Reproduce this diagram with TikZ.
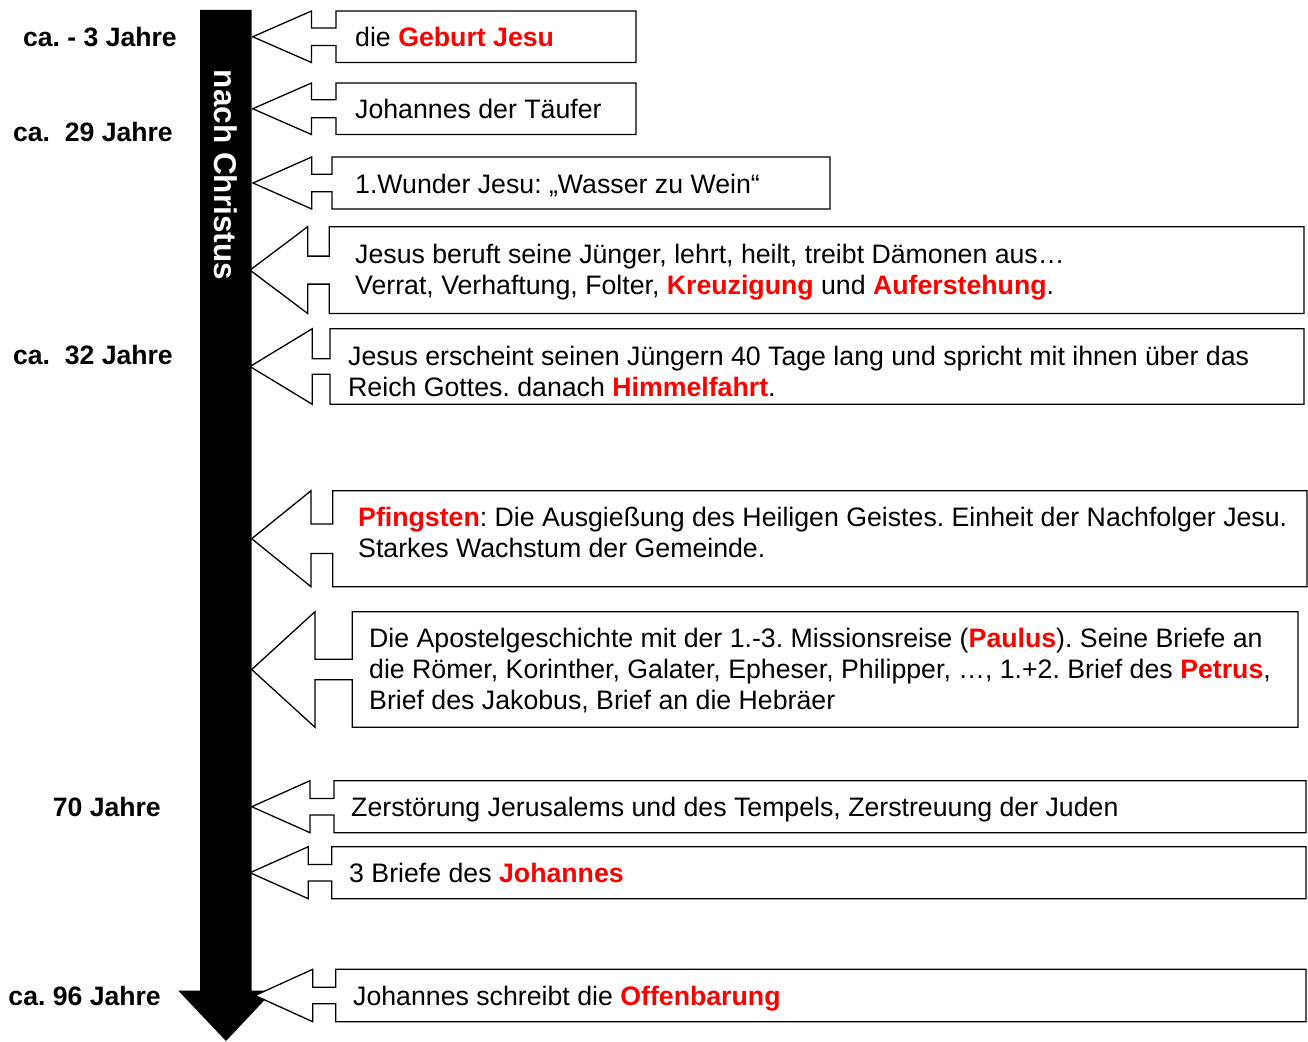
\documentclass[tikz,border=0pt]{standalone}
\usepackage{fontspec}
\setmainfont{Liberation Sans}
\usetikzlibrary{calc}
\definecolor{hl}{RGB}{255,0,0}
\newcommand\hi[1]{\textbf{\textcolor{hl}{#1}}}
% #1 tip x, #2 head back x, #3 box left, #4 box right, #5 top, #6 bottom, #7 shaft half width
\newcommand\callout[7]{%
  \draw[calloutshape] (#3,#5) -- (#4,#5) -- (#4,#6) -- (#3,#6)
    -- (#3,{(#5+#6)/2+#7}) -- (#2,{(#5+#6)/2+#7}) -- (#2,#6)
    -- (#1,{(#5+#6)/2}) -- (#2,#5) -- (#2,{(#5+#6)/2-#7})
    -- (#3,{(#5+#6)/2-#7}) -- cycle;}
\begin{document}
\frenchspacing
\begin{tikzpicture}[x=1pt,y=-1pt,
  calloutshape/.style={draw=black,fill=white,line width=1.3pt,line join=miter},
  evtext/.style={anchor=west,align=left,inner sep=0pt,font=\fontsize{26.7}{31}\selectfont},
  yearlabel/.style={anchor=east,inner sep=0pt,font=\fontsize{26.6}{31}\selectfont\bfseries}]
\useasboundingbox (0,0) rectangle (1308,1041);
% timeline bar
\fill[black] (200,10) -- (251.7,10) -- (251.7,990.7) -- (273.3,990.7) -- (226,1041)
  -- (178.3,990.7) -- (200,990.7) -- cycle;
\node[rotate=-90,text=white,font=\fontsize{31.5}{36}\selectfont\bfseries,inner sep=0pt] (bar) at (226,175) {nach Christus};
% callouts
\callout{252.7}{311.5}{336}{636}{11}{62.5}{8.8}
\callout{252.7}{311.5}{336}{636}{83}{134.5}{9}
\callout{253}{311.7}{332}{830}{157}{209}{8.8}
\callout{250}{307.7}{329.3}{1304}{226.7}{313.5}{14}
\callout{250}{312.3}{330}{1304}{328.7}{404.3}{7.8}
\callout{251.7}{311}{332.7}{1307}{490.7}{586.7}{14.7}
\callout{251.7}{315}{352.3}{1298}{611.7}{727.3}{10.3}
\callout{251.7}{310}{334}{1306}{780.7}{832.7}{8.3}
\callout{250}{308.3}{331.7}{1306}{846.7}{898.7}{8.3}
\callout{255}{312.7}{335.7}{1306}{969.3}{1021.7}{8.2}
% texts
\node[evtext] (t1) at (355,37) {die \hi{Geburt Jesu}};
\node[evtext] (t2) at (355,109) {Johannes der Täufer};
\node[evtext] (t3) at (355,186) {1.Wunder Jesu: „Wasser zu Wein“};
\node[evtext] (t4) at (355,272) {Jesus beruft seine Jünger, lehrt, heilt, treibt Dämonen aus…\\Verrat, Verhaftung, Folter, \hi{Kreuzigung} und \hi{Auferstehung}.};
\node[evtext] (t5) at (348,371) {Jesus erscheint seinen Jüngern 40 Tage lang und spricht mit ihnen über das\\Reich Gottes. danach \hi{Himmelfahrt}.};
\node[evtext] (t6) at (358,532) {\hi{Pfingsten}: Die Ausgießung des Heiligen Geistes. Einheit der Nachfolger Jesu.\\Starkes Wachstum der Gemeinde.};
\node[evtext] (t7) at (369,671) {Die Apostelgeschichte mit der 1.-3. Missionsreise (\hi{Paulus}). Seine Briefe an\\die Römer, Korinther, Galater, Epheser, Philipper, …, 1.+2. Brief des \hi{Petrus},\\Brief des Jakobus, Brief an die Hebräer};
\node[evtext] (t8) at (351,810) {Zerstörung Jerusalems und des Tempels, Zerstreuung der Juden};
\node[evtext] (t9) at (349,873) {3 Briefe des \hi{Johannes}};
\node[evtext] (t10) at (353,999) {Johannes schreibt die \hi{Offenbarung}};
% year labels
\node[yearlabel] (y1) at (177,37) {ca. - 3 Jahre};
\node[yearlabel] (y2) at (173,132) {ca.\ \ 29 Jahre};
\node[yearlabel] (y3) at (173,355) {ca.\ \ 32 Jahre};
\node[yearlabel] (y4) at (161,807) {70 Jahre};
\node[yearlabel] (y5) at (161,996) {ca. 96 Jahre};
\end{tikzpicture}
\end{document}
